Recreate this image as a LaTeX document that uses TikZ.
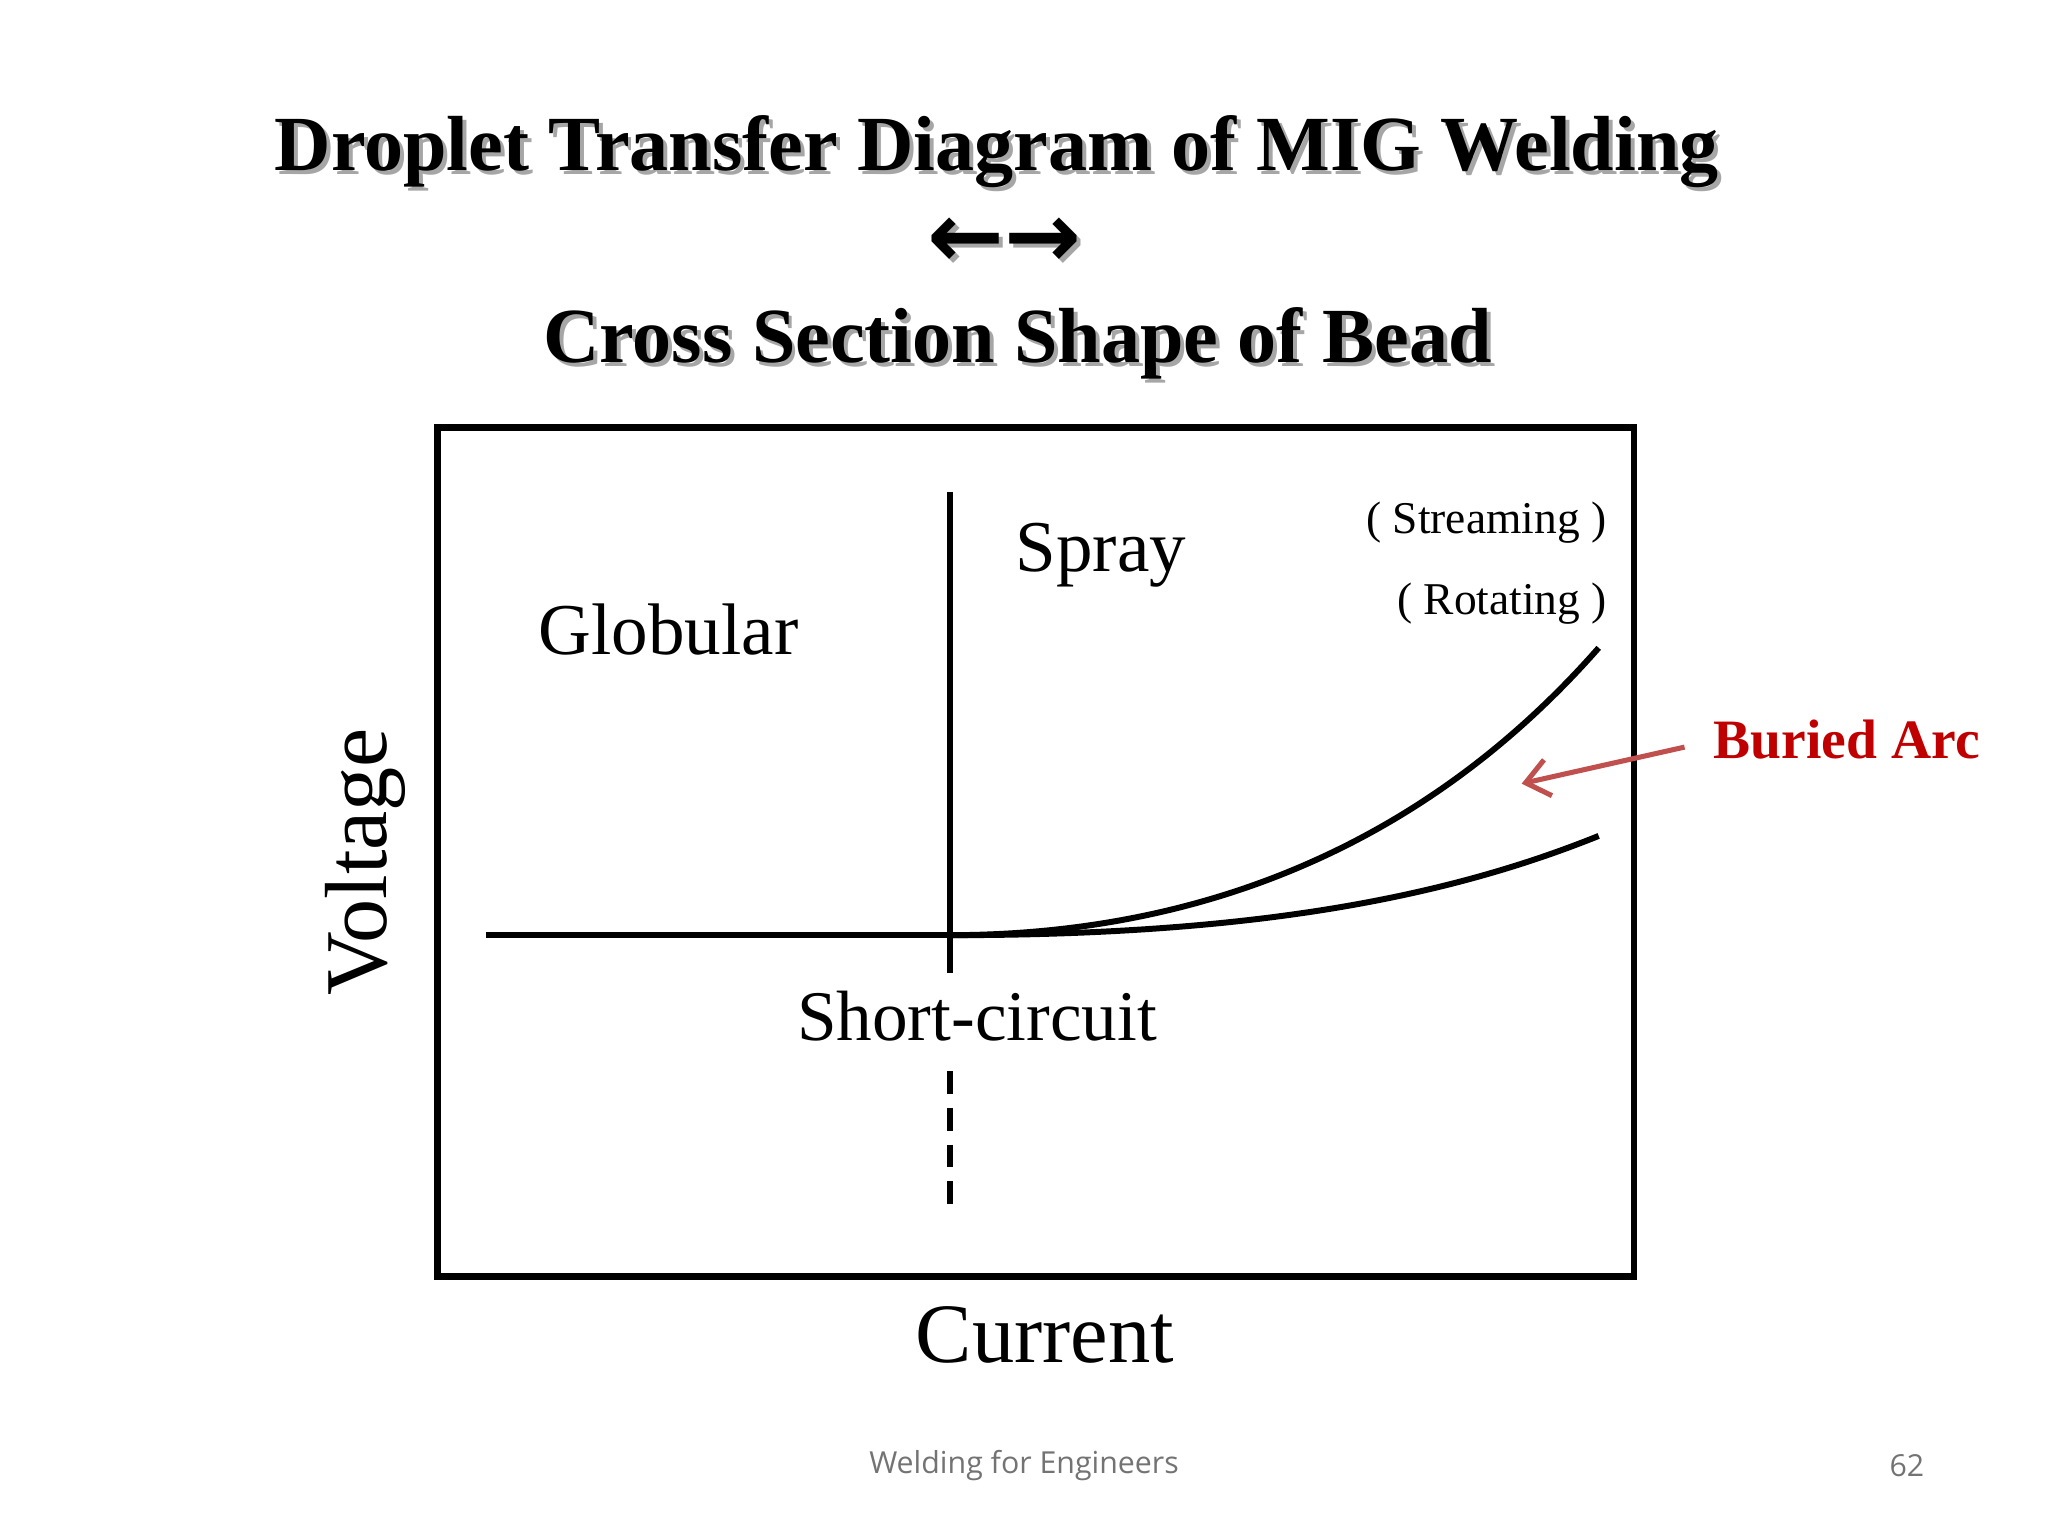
\documentclass[tikz,border=0pt]{standalone}
\usepackage{fontspec}
\setmainfont{Liberation Serif}
\newfontfamily\djv{DejaVu Sans}
\newfontfamily\opn{Open Sans}
\usetikzlibrary{arrows.meta}
\definecolor{redarc}{RGB}{192,0,0}
\definecolor{arrowred}{RGB}{192,80,77}
\tikzset{
  ttl/.style={font=\bfseries\fontsize{17}{20}\selectfont},
  shd/.style={ttl,text=black!35},
  thick line/.style={line width=1.3pt},
}
\begin{document}
\begin{tikzpicture}[x=0.01cm,y=-0.01cm]
\useasboundingbox (0,0) rectangle (1568,1176);
% titles with shadow
\node[shd] at (766,119) {Droplet Transfer Diagram of MIG Welding};
\node[ttl] (t1) at (763,116) {Droplet Transfer Diagram of MIG Welding};
\node[shd,font=\djv\bfseries\fontsize{20}{22}\selectfont] at (772,189) {←→};
\node[ttl,font=\djv\bfseries\fontsize{20}{22}\selectfont] (t2) at (769,186) {←→};
\node[shd] at (782,266) {Cross Section Shape of Bead};
\node[ttl] (t3) at (779,263) {Cross Section Shape of Bead};
% frame
\draw[line width=1.5pt] (335,327) rectangle (1251,977);
\coordinate (vtop) at (727,377);
\coordinate (vbot) at (727,745);
\coordinate (o) at (727,716);
\coordinate (hl) at (372,716);
\draw[thick line] (vtop) -- (vbot);
\draw[thick line] (hl) -- (o);
\coordinate (d1) at (727,820);
\coordinate (d2) at (727,925);
\draw[thick line, dash pattern=on 5pt off 3pt] (d1) -- (d2);
\coordinate (u) at (1224,496);
\coordinate (l) at (1224,640);
\draw[thick line] (o) .. controls (900,716) and (1080,660) .. (u);
\draw[thick line] (o) .. controls (950,716) and (1100,690) .. (l);
% labels
\node[font=\fontsize{15.9}{19}\selectfont] (glob) at (512,482) {Globular};
\node[font=\fontsize{15.9}{19}\selectfont] (spray) at (843,425) {Spray};
\node[font=\fontsize{9.9}{12}\selectfont] (stream) at (1138,400) {( Streaming )};
\node[font=\fontsize{9.9}{12}\selectfont] (rot) at (1150,462) {( Rotating )};
\node[font=\fontsize{15.5}{19}\selectfont] (sc) at (748,778) {Short-circuit};
\node[font=\fontsize{18.4}{22}\selectfont] (cur) at (800,1022) {Current};
\node[font=\fontsize{19.2}{22}\selectfont,rotate=90] (volt) at (280,660) {Voltage};
% buried arc
\node[font=\bfseries\fontsize{12.1}{15}\selectfont,text=redarc] (ba) at (1414,566) {Buried Arc};
\coordinate (bt) at (1165,600);
\draw[arrowred,line width=1.1pt,-{Straight Barb[length=5pt,width=8pt]}] (ba.west) ++(-10,6) coordinate (bs) -- (bt);
% footer
\node[font=\opn\fontsize{6.6}{8}\selectfont,text=black!55] (ft) at (784,1122) {Welding for Engineers};
\node[font=\opn\fontsize{6.6}{8}\selectfont,text=black!55] (pg) at (1460,1122) {62};
\end{tikzpicture}
\end{document}
